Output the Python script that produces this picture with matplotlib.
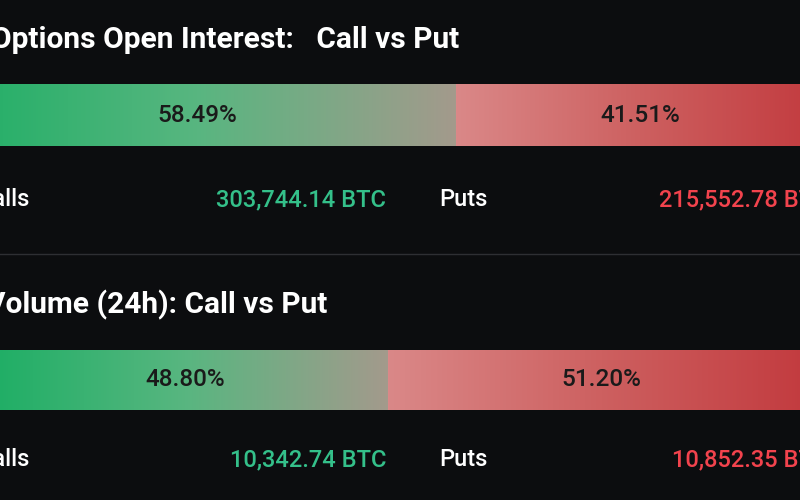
import numpy as np
import matplotlib
matplotlib.use("Agg")
import matplotlib.pyplot as plt
from matplotlib.colors import LinearSegmentedColormap

titles = ["Options Open Interest:   Call vs Put", "Volume (24h): Call vs Put"]
call_pct = [58.49, 48.80]
put_pct = [41.51, 51.20]
call_btc = ["303,744.14 BTC", "10,342.74 BTC"]
put_btc = ["215,552.78 BTC", "10,852.35 BTC"]

BG = "#0c0d0f"
W, H = 800, 500
fig = plt.figure(figsize=(8, 5), dpi=100, facecolor=BG)
plt.rcParams['font.family'] = ['Roboto', 'DejaVu Sans']

def fx(x): return x / W
def fy(y): return 1 - y / H

green = LinearSegmentedColormap.from_list("g", ["#1cae64", "#58b680", "#a39a8c"])
red = LinearSegmentedColormap.from_list("r", ["#da8888", "#cd6060", "#c23a3e"])

layout = [
    dict(title_end=459, title_y=40, bar_top=84, bar_bot=146, x0=-62, split=456, row_y=200, calls_x=-22, callv_x=386, puts_x=439, putv_x=659),
    dict(title_end=327, title_y=305, bar_top=350, bar_bot=410, x0=-18, split=388, row_y=460, calls_x=-22, callv_x=386, puts_x=439, putv_x=672),
]

for i, L in enumerate(layout):
    fig.text(fx(L["title_end"]), fy(L["title_y"]), titles[i], color="white", fontsize=21.5,
             fontweight="bold", va="center", ha="right")
    ax = fig.add_axes([0, fy(L["bar_bot"]), 1, (L["bar_bot"] - L["bar_top"]) / H])
    ax.set_facecolor(BG)
    f0, fs = L["x0"] / W, L["split"] / W
    width = call_pct[i] / (fs - f0)
    a = -f0 * width
    grad = np.linspace(0, 1, 256).reshape(1, -1)
    ax.imshow(grad, cmap=green, extent=(0, call_pct[i], 0, 1), aspect="auto")
    ax.imshow(grad, cmap=red, extent=(call_pct[i], 100, 0, 1), aspect="auto")
    ax.set_xlim(a, a + width)
    ax.set_ylim(0, 1)
    ax.axis("off")
    ax.text(call_pct[i] / 2, 0.5, f"{call_pct[i]:.2f}%", color="#1a1a1a",
            fontsize=17.5, fontweight="medium", ha="center", va="center")
    ax.text((call_pct[i] + 100) / 2, 0.5, f"{put_pct[i]:.2f}%", color="#1a1a1a",
            fontsize=17.5, fontweight="medium", ha="center", va="center")

    ry = fy(L["row_y"])
    fig.text(fx(L["calls_x"]), ry, "Calls", color="white", fontsize=17, fontweight="medium", va="center")
    fig.text(fx(L["callv_x"]), ry, call_btc[i], color="#34c08a", fontsize=17, fontweight="medium", va="center", ha="right")
    fig.text(fx(L["puts_x"]), ry, "Puts", color="white", fontsize=17, fontweight="medium", va="center")
    fig.text(fx(L["putv_x"]), ry, put_btc[i], color="#f2434d", fontsize=17, fontweight="medium", va="center")

fig.add_artist(plt.Line2D([0, 1], [fy(254), fy(254)], color="#2e2f33", lw=1))
fig.savefig("out.png", dpi=100, facecolor=BG)
